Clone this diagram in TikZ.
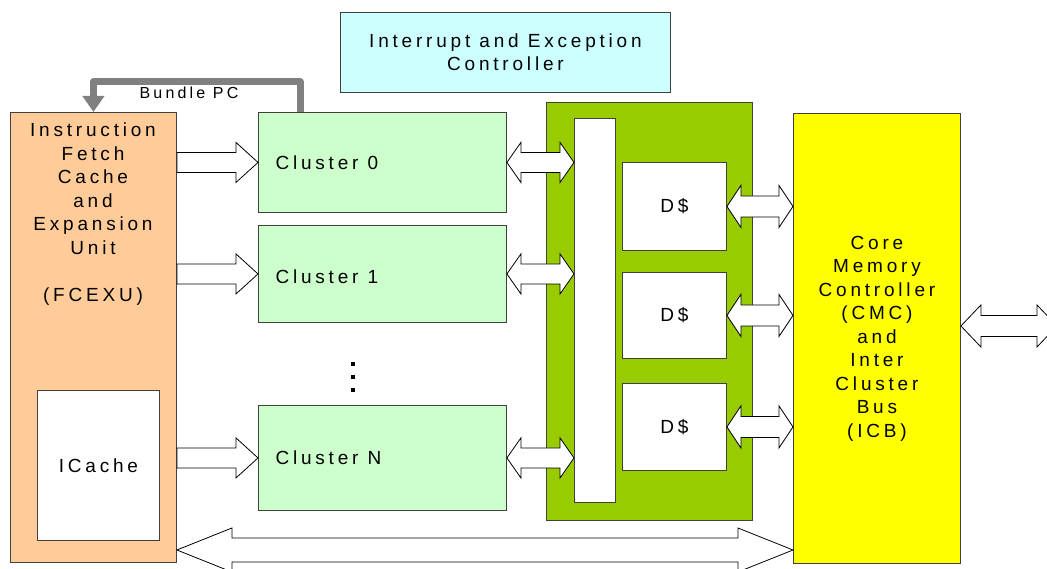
\documentclass[tikz,border=0pt]{standalone}
\usepackage{fontspec}
\setmainfont{Liberation Sans}[LetterSpace=20]
\usepackage{tikz}
\usetikzlibrary{positioning,calc,arrows.meta}

\definecolor{fetchorange}{HTML}{FFCC99}
\definecolor{clustergreen}{HTML}{CCFFCC}
\definecolor{irqcyan}{HTML}{CCFFFF}
\definecolor{xbargreen}{HTML}{99CC00}
\definecolor{cmcyellow}{HTML}{FFFF00}

\tikzset{
 box/.style={draw=black!75, line width=0.9pt, anchor=north west, inner sep=0pt},
 txt/.style={font=\fontsize{19pt}{23.5pt}\selectfont, align=center},
 blockarrow/.style={draw=black, fill=white, line width=0.8pt, line join=miter},
 pcpath/.style={draw=gray, line width=7pt, line join=round, -{Triangle[width=21pt,length=16pt]}},
}

% tail, tip, shaft half, head half, head length
\newcommand{\fatarrow}[5]{\draw[blockarrow] let \p1=(#1), \p2=(#2) in
 (\x1,\y1+#3) -- (\x2-#5,\y1+#3) -- (\x2-#5,\y1+#4) -- (\x2,\y1)
 -- (\x2-#5,\y1-#4) -- (\x2-#5,\y1-#3) -- (\x1,\y1-#3) -- cycle;}
% left tip, right tip, shaft half, head half, head length
\newcommand{\fatdouble}[5]{\draw[blockarrow] let \p1=(#1), \p2=(#2) in
 (\x1,\y1) -- (\x1+#5,\y1+#4) -- (\x1+#5,\y1+#3) -- (\x2-#5,\y1+#3) -- (\x2-#5,\y1+#4)
 -- (\x2,\y1) -- (\x2-#5,\y1-#4) -- (\x2-#5,\y1-#3) -- (\x1+#5,\y1-#3) -- (\x1+#5,\y1-#4) -- cycle;}

\begin{document}
\begin{tikzpicture}[x=1pt, y=-1pt]
 \useasboundingbox (0,0) rectangle (1047,569);

 \node[box, fill=irqcyan, minimum width=330pt, minimum height=80pt, txt] (irq) at (340,12)
   {Interrupt and Exception\\Controller};

 \node[box, fill=fetchorange, minimum width=166pt, minimum height=450pt] (fcexu) at (10,112) {};
 \node[txt, anchor=north, inner sep=0pt] (fcexutext) at (93,123)
   {Instruction\\Fetch\\Cache\\and\\Expansion\\Unit\\ \\(FCEXU)};
 \node[box, fill=white, minimum width=122pt, minimum height=150pt, txt] (icache) at (37,390) {ICache};

 \node[box, fill=clustergreen, minimum width=248pt, minimum height=100pt] (c0) at (258,112) {};
 \node[box, fill=clustergreen, minimum width=248pt, minimum height=97pt] (c1) at (258,225) {};
 \node[box, fill=clustergreen, minimum width=248pt, minimum height=105pt] (cn) at (258,405) {};
 \node[txt, anchor=west] at ([xshift=14pt]c0.west) {Cluster 0};
 \node[txt, anchor=west] at ([xshift=14pt,yshift=-3pt]c1.west) {Cluster 1};
 \node[txt, anchor=west] at ([xshift=14pt]cn.west) {Cluster N};
 \foreach \y in {364,377,390} \fill (351,\y-2) rectangle (355,\y+2);

 \node[box, fill=xbargreen, minimum width=206pt, minimum height=418pt] (xbar) at (546,102) {};
 \node[box, fill=white, minimum width=41pt, minimum height=384pt] (bar) at (574,118) {};
 \node[box, fill=white, minimum width=104pt, minimum height=88pt, txt] (d1) at (622,162) {D\$};
 \node[box, fill=white, minimum width=104pt, minimum height=86pt, txt] (d2) at (622,272) {D\$};
 \node[box, fill=white, minimum width=104pt, minimum height=87pt, txt] (d3) at (622,383) {D\$};

 \node[box, fill=cmcyellow, minimum width=167pt, minimum height=450pt, txt] (cmc) at (793,113)
   {Core\\Memory\\Controller\\(CMC)\\and\\Inter\\Cluster\\Bus\\(ICB)};

 % Bundle PC feedback
 \coordinate (pcx) at (300,82);
 \draw[pcpath] (c0.north -| pcx) -- (pcx) -| (fcexu.north);
 \node[font=\fontsize{16pt}{18pt}\selectfont] (pclabel) at (189,93) {Bundle PC};

 % fetch to clusters
 \fatarrow{fcexu.east |- c0.west}{c0.west}{10pt}{20pt}{22pt}
 \fatarrow{fcexu.east |- c1.west}{c1.west}{10pt}{20pt}{22pt}
 \fatarrow{fcexu.east |- cn.west}{cn.west}{10pt}{20pt}{22pt}

 % clusters to crossbar
 \fatdouble{c0.east}{c0.east -| bar.west}{10pt}{20pt}{14pt}
 \fatdouble{c1.east}{c1.east -| bar.west}{10pt}{20pt}{14pt}
 \fatdouble{cn.east}{cn.east -| bar.west}{10pt}{20pt}{14pt}

 % caches to memory controller
 \fatdouble{d1.east}{d1.east -| cmc.west}{10.5pt}{21pt}{14pt}
 \fatdouble{d2.east}{d2.east -| cmc.west}{10.5pt}{21pt}{14pt}
 \fatdouble{d3.east}{d3.east -| cmc.west}{10.5pt}{21pt}{14pt}

 % off chip
 \coordinate (ext) at (1057,326);
 \fatdouble{cmc.east |- ext}{ext}{10.5pt}{21pt}{20pt}

 % bottom bus
 \coordinate (bus) at (500,550);
 \fatdouble{fcexu.east |- bus}{cmc.west |- bus}{12pt}{22pt}{55pt}
\end{tikzpicture}
\end{document}
